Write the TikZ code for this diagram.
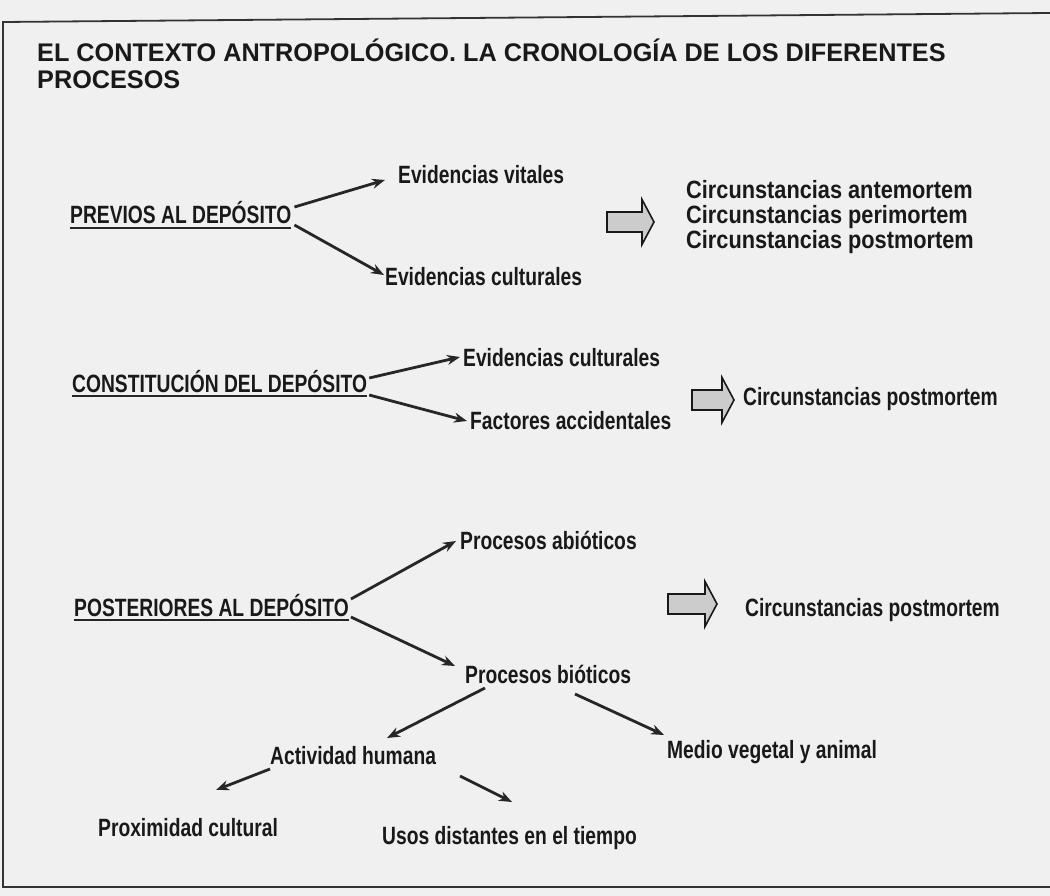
\documentclass[tikz,border=0pt]{standalone}
\usepackage{fontspec}
\setmainfont{Liberation Sans}
\newfontfamily\narrowfont[FakeStretch=0.77]{Liberation Sans}
\newfontfamily\circfont[FakeStretch=0.87]{Liberation Sans}
\newfontfamily\titlefont[FakeStretch=0.99]{Liberation Sans}
\usetikzlibrary{arrows.meta,positioning}

\begin{document}
\begin{tikzpicture}[x=1pt,y=-1pt,
	every node/.style={inner sep=0pt,text=black!90},
	txt/.style={anchor=base west,font=\narrowfont\bfseries\fontsize{25}{26}\selectfont},
	circ/.style={anchor=base west,align=left,font=\narrowfont\bfseries\fontsize{25}{25.5}\selectfont},
	arr/.style={-{Stealth[length=13pt,width=10pt]},line width=2.8pt,draw=black!85},
	uline/.style={line width=2pt,draw=black!85},
	fatarrow/.style={draw=black!90,line width=1.6pt,fill=black!20,line join=miter}]

  \fill[black!6] (0,0) rectangle (1050,896);
  \useasboundingbox (0,0) rectangle (1050,896);
  % frame
  \draw[line width=1.8pt,black!80] (1050,13) -- (3,22) -- (3,887) -- (1050,887);

  \node[anchor=base west,align=left,font=\titlefont\bfseries\fontsize{25.5}{27}\selectfont] (title) at (37,89)
    {EL CONTEXTO ANTROPOLÓGICO. LA CRONOLOGÍA DE LOS DIFERENTES\\PROCESOS};

  % previos al deposito
  \node[txt] (prev) at (70,224) {PREVIOS AL DEPÓSITO};
  \node[txt] (evvit) at (398,184) {Evidencias vitales};
  \node[txt] (evcul) at (385,285) {Evidencias culturales};
  \node[circ,font=\circfont\bfseries\fontsize{25}{25.5}\selectfont] (circ1) at (686,249)
    {Circunstancias antemortem\\Circunstancias perimortem\\Circunstancias postmortem};

  % constitucion del deposito
  \node[txt] (const) at (72,392) {CONSTITUCIÓN DEL DEPÓSITO};
  \node[txt] (evcul2) at (463,366) {Evidencias culturales};
  \node[txt] (factor) at (470,429) {Factores accidentales};
  \node[circ] (circ2) at (743,405) {Circunstancias postmortem};

  % posteriores al deposito
  \node[txt] (post) at (74,616) {POSTERIORES AL DEPÓSITO};
  \node[txt] (abio) at (460,549) {Procesos abióticos};
  \node[circ] (circ3) at (745,616) {Circunstancias postmortem};
  \node[txt] (bio) at (465,683) {Procesos bióticos};
  \node[txt] (activ) at (270,764) {Actividad humana};
  \node[txt] (medio) at (667,758) {Medio vegetal y animal};
  \node[txt] (proxi) at (98,836) {Proximidad cultural};
  \node[txt] (usos) at (382,844) {Usos distantes en el tiempo};

  \foreach \n in {prev,const,post}{
    \draw[uline] ([yshift=-4pt]\n.base west) -- ([yshift=-4pt]\n.base east);
  }

  \draw[arr] ([shift={(3,-17)}]prev.base east) -- ([shift={(-13,-4)}]evvit.base west);
  \draw[arr] ([shift={(3,1)}]prev.base east) -- ([shift={(-1,-10)}]evcul.base west);
  \draw[arr] ([shift={(2,-14)}]const.base east) -- ([shift={(-3,-9)}]evcul2.base west);
  \draw[arr] ([shift={(2,3)}]const.base east) -- ([shift={(-3,-8)}]factor.base west);
  \draw[arr] ([shift={(2,-17)}]post.base east) -- ([shift={(-4,-8)}]abio.base west);
  \draw[arr] ([shift={(2,1)}]post.base east) -- ([shift={(-10,-17)}]bio.base west);
  \draw[arr] ([shift={(20,5)}]bio.base west) -- ([shift={(117,-26)}]activ.base west);
  \draw[arr] ([shift={(110,11)}]bio.base west) -- ([shift={(-3,-23)}]medio.base west);
  \draw[arr] ([shift={(0,5)}]activ.base west) -- ([shift={(118,-46)}]proxi.base west);
  \draw[arr] ([shift={(190,12)}]activ.base west) -- ([shift={(130,-42)}]usos.base west);

  % block arrows
  \foreach \x/\y/\l in {607/222/35,692/400/30,668/604/37}{
    \draw[fatarrow] (\x,\y-10) -- ++(\l,0) -- ++(0,-12.5) -- ++(12,22.5)
      -- ++(-12,22.5) -- ++(0,-12.5) -- ++(-\l,0) -- cycle;
  }
\end{tikzpicture}
\end{document}
